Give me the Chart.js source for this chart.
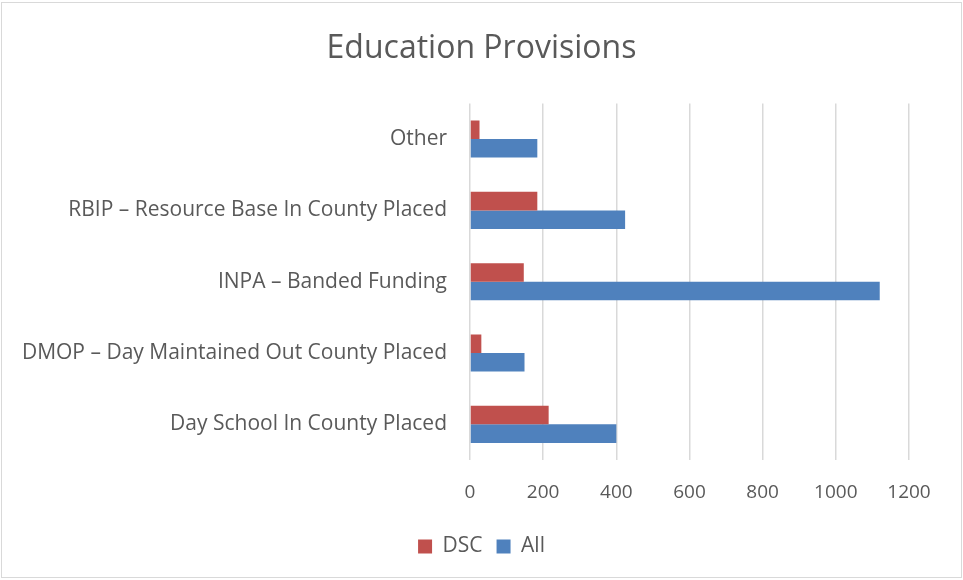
<!DOCTYPE html>
<html>
<head>
<meta charset="utf-8">
<script src="https://cdn.jsdelivr.net/npm/chart.js@4"></script>
<style>
  html, body { margin: 0; padding: 0; background: #fff; }
  #wrap { position: relative; width: 963px; height: 580px; }
  #frame { position: absolute; left: 1px; top: 2px; width: 959px; height: 574px; border: 1px solid #D9D9D9; pointer-events: none; }
</style>
</head>
<body>
<div id="wrap">
  <canvas id="chart" width="963" height="580"></canvas>
  <div id="frame"></div>
</div>
<script>
// chart data
const categories = [
    "Other",
    "RBIP \u2013 Resource Base In County Placed",
    "INPA \u2013 Banded Funding",
    "DMOP \u2013 Day Maintained Out County Placed",
    "Day School In County Placed",
];
const dscValues = [26, 184, 147, 31, 215];
const allValues = [184, 424, 1120, 149, 400];
const xTicks = [0, 200, 400, 600, 800, 1000, 1200];

const textColor = "#595959";
const fontFamily = "'Open Sans', 'Liberation Sans', sans-serif";

const ctx = document.getElementById("chart");
new Chart(ctx, {
    type: "bar",
    data: {
        labels: categories,
        datasets: [
            {
                label: "DSC",
                data: dscValues,
                backgroundColor: "#C0504D",
                categoryPercentage: 0.52,
                barPercentage: 1.0,
            },
            {
                label: "All",
                data: allValues,
                backgroundColor: "#4F81BD",
                categoryPercentage: 0.52,
                barPercentage: 1.0,
            },
        ],
    },
    options: {
        indexAxis: "y",
        responsive: false,
        animation: false,
        layout: { padding: { left: 0, right: 0, top: 0, bottom: 13 } },
        plugins: {
            title: {
                display: true,
                text: "Education Provisions",
                color: textColor,
                font: { family: fontFamily, size: 32, weight: "normal" },
                padding: { top: 30, bottom: 35 },
            },
            legend: {
                position: "bottom",
                labels: {
                    color: textColor,
                    font: { family: fontFamily, size: 21 },
                    boxWidth: 14,
                    boxHeight: 14,
                    padding: 14,
                },
            },
            tooltip: { enabled: false },
        },
        scales: {
            x: {
                min: 0,
                max: 1200,
                afterBuildTicks: scale => { scale.ticks = xTicks.map(v => ({ value: v })); },
                afterFit: scale => { scale.height = 62; },
                grid: { color: "#D9D9D9", lineWidth: 1.5, drawTicks: false },
                border: { display: false },
                ticks: {
                    color: textColor,
                    font: { family: fontFamily, size: 19 },
                    padding: 21,
                    maxRotation: 0,
                    callback: v => String(v),
                },
            },
            y: {
                afterFit: scale => { scale.width = 470; },
                grid: { display: false },
                border: { display: false },
                ticks: {
                    color: textColor,
                    font: { family: fontFamily, size: 21 },
                    padding: 15,
                },
            },
            // empty right-hand axis: keeps the plot narrower without shifting title and legend
            yRight: {
                type: "linear",
                position: "right",
                afterFit: scale => { scale.width = 54; },
                grid: { display: false },
                border: { display: false },
                ticks: { display: false },
            },
        },
    },
});
</script>
</body>
</html>
